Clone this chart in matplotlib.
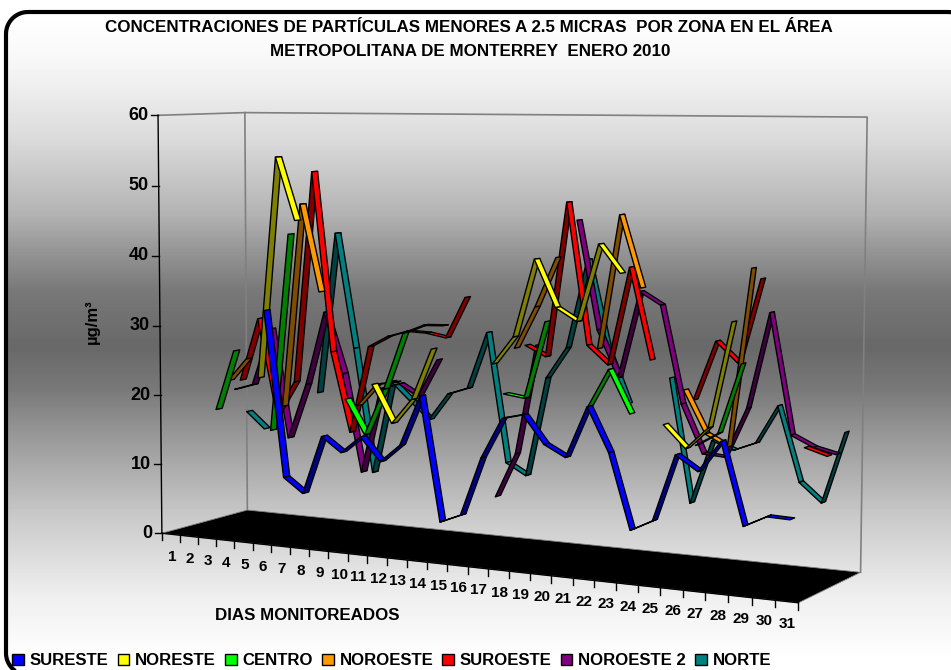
import numpy as np
import matplotlib
matplotlib.use("Agg")
import matplotlib.pyplot as plt
from matplotlib.patches import Patch, Polygon
from matplotlib.colors import to_rgb

# One value per day, None where the station has no reading
nan = None
days = list(range(1, 32))
value_ticks = [0, 10, 20, 30, 40, 50, 60]

sureste = [nan, nan, nan, nan, nan, 32.9, 9.6, 7.6, 15.8, 13.8, 16.2, 13.0, 15.5, 22.4, 5.5, 6.7,
           14.7, 20.2, 20.9, 17.2, 15.7, 22.6, 16.8, 6.9, 8.4, 17.2, 15.3, 19.4, 8.8, 10.3, 10.2]
noreste = [nan, nan, nan, nan, 22.9, 54.2, 45.4, nan, nan, nan, 23.1, 17.9, 21.4, 28.5, nan, nan,
           27.0, 30.8, 41.3, 35.0, 33.3, 43.6, 39.9, nan, 20.5, 17.6, 20.5, 34.3, nan, nan, nan]
centro = [nan, 17.4, 26.1, nan, 15.0, 43.2, nan, nan, 20.3, 15.5, 22.1, 30.1, 31.3, 31.4, nan, nan,
          22.6, 22.2, 32.7, nan, 21.4, 26.8, 21.1, nan, nan, 17.6, 19.4, 28.6, nan, nan, nan]
noroeste = [nan, 21.3, 24.6, nan, 18.1, 47.3, 34.9, nan, 19.0, 22.2, 22.7, nan, nan, nan, nan, nan,
            28.5, 34.3, 41.1, nan, 29.1, 47.1, 37.5, nan, 24.3, 18.7, 17.2, 40.7, nan, nan, nan]
suroeste = [nan, 21.0, 30.2, 16.5, 21.3, 51.8, 26.0, 14.6, 27.1, 28.7, 29.6, 29.5, 29.0, 34.8, nan, nan,
            28.6, 27.2, 48.4, 29.1, 26.6, 39.9, 27.6, nan, 22.6, 30.6, 27.9, 39.1, nan, 17.4, 16.5]
noroeste_2 = [19.1, 20.0, 28.4, 12.5, 20.6, 31.3, 22.5, 8.4, 20.7, 21.6, 20.0, 25.4, nan, nan, 6.6, 12.9,
              28.3, nan, 45.8, 30.9, 24.5, 36.4, 34.7, 21.5, 15.0, 14.8, 21.5, 34.4, 18.4, 17.0, 16.3]
norte = [15.4, 13.0, nan, nan, 19.0, 42.6, 25.9, 7.9, 21.4, 18.8, 16.3, 20.2, 21.2, 29.3, 11.0, 9.4,
         23.4, 27.8, 40.2, 27.8, 20.6, nan, 24.5, 7.6, 16.4, 15.3, 16.5, 21.7, 11.7, 9.2, 18.8]

series_names = ["SURESTE", "NORESTE", "CENTRO", "NOROESTE", "SUROESTE", "NOROESTE 2", "NORTE"]
series_values = [sureste, noreste, centro, noroeste, suroeste, noroeste_2, norte]
series_colors = ["#0000FF", "#FFFF00", "#00FF00", "#FF9900", "#FF0000", "#800080", "#008080"]


def fit_projection(cube_points, pixel_points):
    # DLT fit of the 3D box (day, depth, height) onto the picture
    rows = []
    for (u, v, w), (x, y) in zip(cube_points, pixel_points):
        rows.append([u, v, w, 1, 0, 0, 0, 0, -x * u, -x * v, -x * w, -x])
        rows.append([0, 0, 0, 0, u, v, w, 1, -y * u, -y * v, -y * w, -y])
    return np.linalg.svd(np.array(rows, dtype=float))[2][-1].reshape(3, 4)


box_corners = [(0, 0, 0), (1, 0, 0), (0, 1, 0), (1, 1, 0), (0, 0, 1), (0, 1, 1), (1, 1, 1), (15 / 31, 0, 0)]
box_pixels = [(163, 533), (798, 603), (246, 510), (861, 572), (157, 115), (246, 113), (867, 117), (447.5, 564.8)]
projection = fit_projection(box_corners, box_pixels)


def project(day_position, depth, value):
    # day_position in days from the left wall, depth in series slots from the front
    point = projection @ np.array([day_position / 31, depth / 7, value / 60, 1.0])
    return point[:2] / point[2]


def rounded_outline(left, top, right, bottom, radius):
    # plain polygon, the frame runs off the canvas on two sides
    centers = [(left + radius, top + radius), (right - radius, top + radius),
               (right - radius, bottom - radius), (left + radius, bottom - radius)]
    points = []
    for corner, (cx, cy) in enumerate(centers):
        angles = np.radians(np.linspace(180, 270, 20) + 90 * corner)
        points.extend(zip(cx + radius * np.cos(angles), cy + radius * np.sin(angles)))
    return points


fig = plt.figure(figsize=(9.51, 6.70), dpi=100)
ax = fig.add_axes([0, 0, 1, 1])
ax.set_xlim(0, 951)
ax.set_ylim(670, 0)
ax.axis("off")
plt.rcParams["font.family"] = ["Liberation Sans", "DejaVu Sans"]

# (1): Gradient background inside the rounded frame
frame = Polygon(rounded_outline(6, 12, 970, 675, 22), closed=True, facecolor="none",
                edgecolor="black", linewidth=3, zorder=1)
ax.add_patch(frame)
rows = np.arange(12, 670)
gradient = np.interp(rows, [12, 60, 137, 214, 252, 291, 346, 387, 445, 521, 598, 660],
                     [1.0, 0.97, 0.86, 0.70, 0.58, 0.47, 0.41, 0.47, 0.62, 0.80, 0.94, 1.0])[:, None]
image = ax.imshow(gradient, extent=(0, 951, 670, 12), cmap="gray", vmin=0, vmax=1, aspect="auto", zorder=0)
image.set_clip_path(frame)
ax.set_xlim(0, 951)
ax.set_ylim(670, 0)

# (2): Walls and floor
wall_color = "#808080"
left_wall = [project(0, 0, 60), project(0, 7, 60), project(31, 7, 60), project(31, 7, 0)]
ax.plot(*zip(*left_wall), color=wall_color, lw=1.2, zorder=2)
ax.plot(*zip(project(0, 7, 60), project(0, 7, 0)), color=wall_color, lw=1.2, zorder=2)
floor = [project(0, 0, 0), project(31, 0, 0), project(31, 7, 0), project(0, 7, 0)]
ax.add_patch(Polygon(floor, closed=True, facecolor="black", edgecolor="#808080", lw=0.6, zorder=2))
ax.plot(*zip(floor[0], floor[1]), color="black", lw=1, zorder=2)
ax.plot(*zip(project(0, 0, 0), project(0, 0, 60)), color="black", lw=1, zorder=2)

# (3): Ticks and labels
for tick in value_ticks:
    x, y = project(0, 0, tick)
    ax.plot([x - 7, x], [y, y], color="black", lw=1, zorder=2)
    ax.text(x - 10, y, str(tick), ha="right", va="center", fontsize=13, fontweight="bold")
for position in range(32):
    x, y = project(position, 0, 0)
    ax.plot([x, x], [y, y + 7], color="black", lw=1, zorder=2)
for day in days:
    x, y = project(day - 0.5, 0, 0)
    ax.text(x + 1, y + 22.5, str(day), ha="center", va="center", fontsize=11, fontweight="bold")

# (4): Ribbons, back series first
for slot in range(len(series_values) - 1, -1, -1):
    values = series_values[slot]
    bright = to_rgb(series_colors[slot])
    dark = tuple(c * 0.5 for c in bright)
    for i in range(len(values) - 1):
        if values[i] is None or values[i + 1] is None:
            continue
        a0 = project(i + 0.5, slot + 0.25, values[i])
        b0 = project(i + 1.5, slot + 0.25, values[i + 1])
        b1 = project(i + 1.5, slot + 0.75, values[i + 1])
        a1 = project(i + 0.5, slot + 0.75, values[i])
        # top face seen when the ribbon falls, under face when it climbs
        along = b0 - a0
        across = a1 - a0
        face = bright if along[0] * across[1] - along[1] * across[0] < 0 else dark
        ax.add_patch(Polygon([a0, b0, b1, a1], closed=True, facecolor=face, edgecolor="black",
                             lw=1.0, joinstyle="round", zorder=3))

# (5): Titles
ax.text(469, 27, "CONCENTRACIONES DE PARTÍCULAS MENORES A 2.5 MICRAS  POR ZONA EN EL ÁREA",
        ha="center", va="center", fontsize=12.25, fontweight="bold")
ax.text(470, 52, "METROPOLITANA DE MONTERREY  ENERO 2010",
        ha="center", va="center", fontsize=12.25, fontweight="bold")
ax.text(307, 615, "DIAS MONITOREADOS", ha="center", va="center", fontsize=12.2, fontweight="bold")
ax.text(92, 322, "µg/m³", ha="center", va="center", rotation=90, fontsize=12, fontweight="bold")

# (6): Legend
handles = [Patch(facecolor=c, edgecolor="black", linewidth=1, label=n) for c, n in zip(series_colors, series_names)]
fig.legend(handles=handles, loc="lower left", bbox_to_anchor=(0.0005, -0.015), ncol=7, frameon=False,
           prop={"weight": "bold", "size": 12.1}, handlelength=0.7, handleheight=0.7,
           handletextpad=0.35, columnspacing=0.53, borderpad=0.2)

fig.savefig("out.png", dpi=100)
